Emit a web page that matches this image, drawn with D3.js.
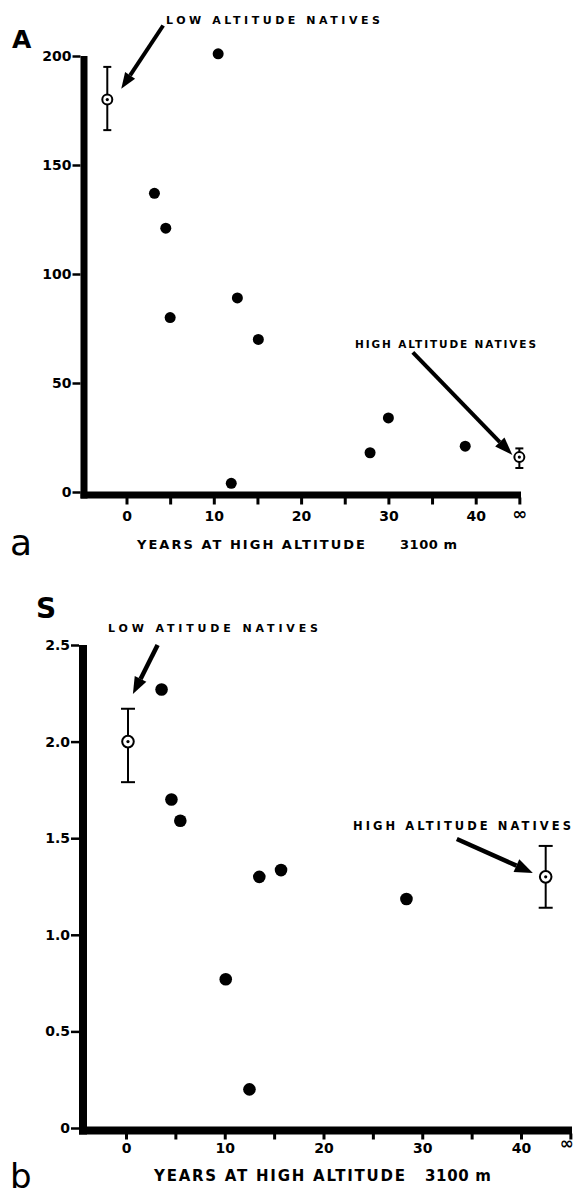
<!DOCTYPE html>
<html>
<head>
<meta charset="utf-8">
<script src="https://cdnjs.cloudflare.com/ajax/libs/d3/7.8.5/d3.min.js"></script>
<style>
  body { margin: 0; background: #fff; }
  text { font-family: "DejaVu Sans", sans-serif; font-weight: bold; fill: #000; }
</style>
</head>
<body>
<svg id="chart" width="575" height="1195"></svg>
<script>
// Panel A: individual subjects
var yearsA = [10.5, 3.2, 4.5, 5.0, 12.7, 15.1, 12.0, 27.9, 30.0, 38.8];
var valuesA = [201, 137, 121, 80, 89, 70, 4, 18, 34, 21];
// natives (mean with error bar); 45 = infinity position
var nativesA = [
    {x: -2.2, y: 180, lo: 166, hi: 195},
    {x: 45, y: 16, lo: 11, hi: 20}
];
var yTicksA = [0, 50, 100, 150, 200];

// Panel S
var yearsB = [3.6, 4.6, 5.5, 10.1, 12.5, 13.5, 15.7, 28.4];
var valuesB = [2.27, 1.70, 1.59, 0.77, 0.20, 1.30, 1.335, 1.185];
var nativesB = [
    {x: 0.2, y: 2.0, lo: 1.79, hi: 2.17},
    {x: 42.5, y: 1.30, lo: 1.14, hi: 1.46}
];
var yTicksB = [0, 0.5, 1.0, 1.5, 2.0, 2.5];

var xTicks = [0, 5, 10, 15, 20, 25, 30, 35, 40, 45];

var svg = d3.select("#chart");

function xFormat(v) {
    if (v == 45) return "\u221E";
    return v % 10 == 0 ? v : "";
}

function yFormatB(v) {
    return v == 0 ? "0" : d3.format(".1f")(v);
}

function drawArrow(g, x1, y1, x2, y2, headLen, headW, width) {
    var ang = Math.atan2(y2 - y1, x2 - x1);
    var bx = x2 - headLen * Math.cos(ang), by = y2 - headLen * Math.sin(ang);
    g.append("line")
        .attr("x1", x1).attr("y1", y1).attr("x2", bx).attr("y2", by)
        .attr("stroke", "#000").attr("stroke-width", width);
    var px = -Math.sin(ang) * headW / 2, py = Math.cos(ang) * headW / 2;
    g.append("polygon")
        .attr("points", [[x2, y2], [bx + px, by + py], [bx - px, by - py]].map(function(p){ return p.join(","); }).join(" "))
        .attr("fill", "#000");
}

function drawPanel(opt) {
    var g = svg.append("g");
    var x = opt.x, y = opt.y;

    // thick y axis line
    g.append("line")
        .attr("x1", opt.axisX).attr("x2", opt.axisX)
        .attr("y1", y.range()[1]).attr("y2", opt.axisY + opt.axisW / 2)
        .attr("stroke", "#000").attr("stroke-width", opt.axisW);
    // thick x axis line
    g.append("line")
        .attr("x1", opt.axisX - opt.axisW / 2).attr("x2", opt.xEnd)
        .attr("y1", opt.axisY).attr("y2", opt.axisY)
        .attr("stroke", "#000").attr("stroke-width", opt.axisW);

    var yAxis = d3.axisLeft(y).tickValues(opt.yTicks).tickFormat(opt.yFormat)
        .tickSize(8).tickSizeOuter(0).tickPadding(1);
    var ya = g.append("g")
        .attr("transform", "translate(" + (opt.axisX - opt.axisW / 2) + ",0)")
        .call(yAxis);
    ya.select(".domain").remove();
    ya.selectAll("line").attr("stroke", "#000").attr("stroke-width", 2.5);
    ya.selectAll("text").attr("font-size", opt.tickFont).attr("font-family", null);

    var xAxis = d3.axisBottom(x).tickValues(xTicks).tickFormat(xFormat)
        .tickSize(opt.xTickLen).tickSizeOuter(0).tickPadding(opt.xPad);
    var xa = g.append("g")
        .attr("transform", "translate(0," + (opt.axisY + opt.axisW / 2 - 1) + ")")
        .call(xAxis);
    xa.select(".domain").remove();
    xa.selectAll("line").attr("stroke", "#000").attr("stroke-width", 3);
    xa.selectAll("text").attr("font-size", opt.tickFont).attr("font-family", null);
    xa.selectAll("text").filter(function(d){ return d == 45; })
        .attr("font-size", opt.infFont).attr("dy", opt.infDy).attr("dx", opt.infDx);

    // subjects
    g.selectAll("circle.pt")
        .data(opt.years)
        .enter()
        .append("circle")
        .attr("class", "pt")
        .attr("cx", function(d){ return x(d); })
        .attr("cy", function(d, i){ return y(opt.values[i]); })
        .attr("r", opt.r)
        .attr("fill", "#000");

    // natives with error bars
    opt.natives.forEach(function(n) {
        var cx = x(n.x);
        g.append("line").attr("x1", cx).attr("x2", cx)
            .attr("y1", y(n.lo)).attr("y2", y(n.hi))
            .attr("stroke", "#000").attr("stroke-width", 2);
        [n.lo, n.hi].forEach(function(v) {
            g.append("line").attr("x1", cx - opt.cap / 2).attr("x2", cx + opt.cap / 2)
                .attr("y1", y(v)).attr("y2", y(v))
                .attr("stroke", "#000").attr("stroke-width", 2);
        });
        g.append("circle").attr("cx", cx).attr("cy", y(n.y)).attr("r", opt.r - 0.5)
            .attr("fill", "#fff").attr("stroke", "#000").attr("stroke-width", 2);
        g.append("circle").attr("cx", cx).attr("cy", y(n.y)).attr("r", 1.6)
            .attr("fill", "#000");
    });

    return g;
}

// ---- Panel A ----
var xA = d3.scaleLinear().domain([0, 40]).range([126.5, 475.7]);
var yA = d3.scaleLinear().domain([0, 200]).range([492, 56]);
var gA = drawPanel({
    x: xA, y: yA, axisX: 84, axisY: 495, axisW: 7, xEnd: 521,
    yTicks: yTicksA, yFormat: d3.format("d"), tickFont: 14,
    xTickLen: 7, xPad: 7, years: yearsA, values: valuesA,
    natives: nativesA, r: 5.5, cap: 8,
    infFont: 18, infDy: "0.45em", infDx: 0
});
drawArrow(gA, xA(4.2), yA(214), xA(-0.6), yA(185), 16, 12, 4);
drawArrow(gA, xA(32.8), yA(64), xA(44.2), yA(17), 18, 13, 4);

gA.append("text").attr("x", 166).attr("y", 23.5).attr("font-size", 11)
    .attr("textLength", 214).attr("lengthAdjust", "spacing").text("LOW ALTITUDE NATIVES");
gA.append("text").attr("x", 355).attr("y", 347.5).attr("font-size", 10.5)
    .attr("textLength", 181).attr("lengthAdjust", "spacing").text("HIGH ALTITUDE NATIVES");
gA.append("text").attr("x", 137).attr("y", 549).attr("font-size", 13)
    .attr("textLength", 228).attr("lengthAdjust", "spacing").text("YEARS AT HIGH ALTITUDE");
gA.append("text").attr("x", 400).attr("y", 549).attr("font-size", 13)
    .attr("textLength", 57).attr("lengthAdjust", "spacing").text("3100 m");
gA.append("text").attr("x", 12).attr("y", 48).attr("font-size", 25).text("A");
gA.append("text").attr("x", 10).attr("y", 555).attr("font-size", 36)
    .style("font-weight", "normal").text("a");

// ---- Panel S ----
var xB = d3.scaleLinear().domain([0, 40]).range([126, 521]);
var yB = d3.scaleLinear().domain([0, 2.5]).range([1128, 645]);
var gB = drawPanel({
    x: xB, y: yB, axisX: 83, axisY: 1130.5, axisW: 8, xEnd: 572,
    yTicks: yTicksB, yFormat: yFormatB, tickFont: 14,
    xTickLen: 6, xPad: 4, years: yearsB, values: valuesB,
    natives: nativesB, r: 6.3, cap: 14,
    infFont: 17, infDy: "0.3em", infDx: -4
});
drawArrow(gB, xB(3.2), yB(2.5), xB(0.7), yB(2.246), 17, 13, 4.5);
drawArrow(gB, xB(33.5), yB(1.496), xB(41.2), yB(1.32), 18, 14, 4.5);

gB.append("text").attr("x", 108).attr("y", 631.5).attr("font-size", 11)
    .attr("textLength", 210).attr("lengthAdjust", "spacing").text("LOW ATITUDE NATIVES");
gB.append("text").attr("x", 353).attr("y", 829.5).attr("font-size", 11.5)
    .attr("textLength", 218).attr("lengthAdjust", "spacing").text("HIGH ALTITUDE NATIVES");
gB.append("text").attr("x", 154).attr("y", 1181).attr("font-size", 15)
    .attr("textLength", 251).attr("lengthAdjust", "spacing").text("YEARS AT HIGH ALTITUDE");
gB.append("text").attr("x", 425).attr("y", 1181).attr("font-size", 15)
    .attr("textLength", 66).attr("lengthAdjust", "spacing").text("3100 m");
gB.append("text").attr("x", 36).attr("y", 618).attr("font-size", 28)
    .style("font-weight", 600).text("S");
gB.append("text").attr("x", 10).attr("y", 1188).attr("font-size", 34)
    .style("font-weight", "normal").text("b");
</script>
</body>
</html>
